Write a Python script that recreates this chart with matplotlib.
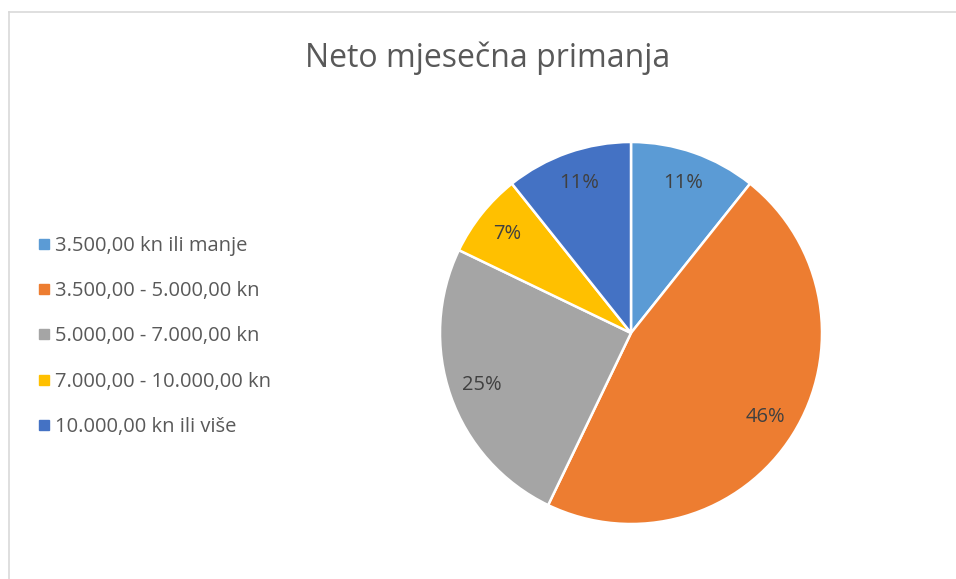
import matplotlib
matplotlib.use("Agg")
import matplotlib.pyplot as plt
from matplotlib.lines import Line2D

plt.rcParams['font.family'] = ['Open Sans', 'DejaVu Sans']

title = "Neto mjesečna primanja"
categories = ["3.500,00 kn ili manje", "3.500,00 - 5.000,00 kn", "5.000,00 - 7.000,00 kn",
              "7.000,00 - 10.000,00 kn", "10.000,00 kn ili više"]
counts = [3, 13, 7, 2, 3]
colors = ["#5B9BD5", "#ED7D31", "#A5A5A5", "#FFC000", "#4472C4"]

W, H = 956, 579
fig = plt.figure(figsize=(W / 100, H / 100), dpi=100)
fig.patch.set_facecolor("white")

# chart border (partially cropped in reference)
fig.add_artist(Line2D([8.5 / W, 8.5 / W], [0, 1 - 11.5 / H], transform=fig.transFigure, color="#D9D9D9", lw=1.2))
fig.add_artist(Line2D([8.5 / W, 1], [1 - 11.5 / H, 1 - 11.5 / H], transform=fig.transFigure, color="#D9D9D9", lw=1.2))

cx, cy, r = 631, 333, 191
ax = fig.add_axes([(cx - r) / W, (H - cy - r) / H, 2 * r / W, 2 * r / H])
wedges, texts, autotexts = ax.pie(
    counts, colors=colors, startangle=90, counterclock=False,
    autopct='%.0f%%', pctdistance=0.83,
    wedgeprops=dict(edgecolor="white", linewidth=1.8),
    textprops=dict(color="#404040", fontsize=14.5),
)
ax.set_xlim(-1, 1)
ax.set_ylim(-1, 1)
ax.set_aspect("auto")
ax.axis("off")

fig.text(488 / W, 1 - 58 / H, title, ha="center", va="center", fontsize=23, color="#595959")

handles = [Line2D([0], [0], marker="s", linestyle="none", markersize=6.5,
                  markerfacecolor=c, markeredgecolor=c) for c in colors]
leg = fig.legend(handles, categories, loc="upper left",
                 bbox_to_anchor=(30 / W, 1 - 228 / H), frameon=False,
                 fontsize=14.5, labelcolor="#595959", handlelength=0.55,
                 handletextpad=0.3, labelspacing=1.25, borderaxespad=0)

fig.savefig("out.png", dpi=100, facecolor="white")
